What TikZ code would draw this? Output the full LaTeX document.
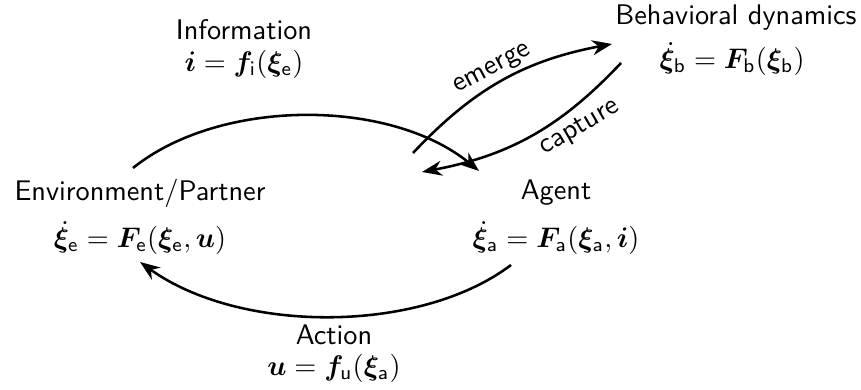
\documentclass[tikz,border=0pt]{standalone}
\usepackage{amsmath,bm}
\usetikzlibrary{arrows.meta}
\renewcommand{\familydefault}{\sfdefault}
\begin{document}
\begin{tikzpicture}[x=0.353pt,y=0.353pt,every node/.style={inner sep=0.5pt},
  flow/.style={line width=0.9pt,-{Stealth}}]
\useasboundingbox (0,0) rectangle (861,390);
\node (envt) at (140,197) {Environment/Partner};
\node (enveq) at (140,152) {$\dot{\bm{\xi}}_{\mathsf{e}}=\bm{F}_{\mathsf{e}}(\bm{\xi}_{\mathsf{e}},\bm{u})$};
\node (agt) at (556,197) {Agent};
\node (ageq) at (556,152) {$\dot{\bm{\xi}}_{\mathsf{a}}=\bm{F}_{\mathsf{a}}(\bm{\xi}_{\mathsf{a}},\bm{i})$};
\node (beht) at (736,372) {Behavioral dynamics};
\node (beheq) at (732,331) {$\dot{\bm{\xi}}_{\mathsf{b}}=\bm{F}_{\mathsf{b}}(\bm{\xi}_{\mathsf{b}})$};
\node (infot) at (244,360) {Information};
\node (infoeq) at (244,326) {$\bm{i}=\bm{f}_{\mathsf{i}}(\bm{\xi}_{\mathsf{e}})$};
\node (actt) at (334,55) {Action};
\node (acteq) at (334,22) {$\bm{u}=\bm{f}_{\mathsf{u}}(\bm{\xi}_{\mathsf{a}})$};
\coordinate (infoA) at (133,222);
\coordinate (infoB) at (479,219);
\coordinate (actA) at (511,125);
\coordinate (actB) at (140,128);
\coordinate (emA) at (413,237);
\coordinate (emB) at (612,346);
\coordinate (capA) at (621,327);
\coordinate (capB) at (422,218);
\draw[flow] (infoA) .. controls (220,292) and (390,292) .. (infoB);
\draw[flow] (actA) .. controls (420,56) and (240,56) .. (actB);
\draw[flow] (emA) to[bend left=18] (emB);
\draw[flow] (capA) to[bend left=18] (capB);
\node[rotate=28] (emlab) at (493,320) {emerge};
\node[rotate=30] (caplab) at (580,262) {capture};
\end{tikzpicture}
\end{document}
